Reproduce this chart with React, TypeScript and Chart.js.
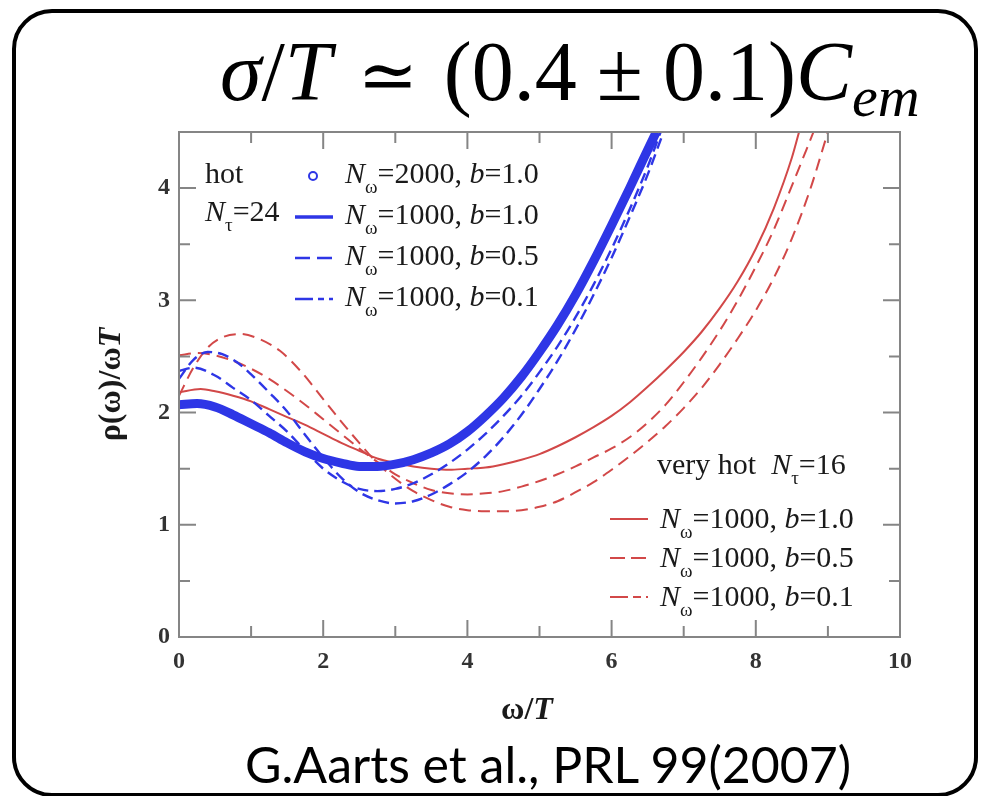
import React, { useEffect, useRef } from "react";
import { Chart, registerables } from "chart.js";

Chart.register(...registerables);

// ---- axes ----
const xMin = 0;
const xMax = 10;
const yMin = 0;
const yMax = 4.5;
const xTickLabels = [0, 2, 4, 6, 8, 10];
const xMinorTicks = [1, 3, 5, 7, 9];
const yTickLabels = [0, 1, 2, 3, 4];
const yMinorTicks = [0.5, 1.5, 2.5, 3.5];

// ---- hot, N_tau = 24 ----
const hot2000b10X = [0, 0.25, 0.5, 0.75, 1, 1.25, 1.5, 1.75, 2, 2.25, 2.5, 2.75, 3, 3.25, 3.5, 3.75, 4, 4.25, 4.5, 4.75, 5, 5.25, 5.5, 5.75, 6, 6.25, 6.5, 6.62];
const hot2000b10Y = [2.07, 2.08, 2.05, 1.98, 1.9, 1.82, 1.73, 1.65, 1.59, 1.55, 1.52, 1.52, 1.54, 1.58, 1.64, 1.72, 1.83, 1.97, 2.13, 2.32, 2.54, 2.78, 3.05, 3.35, 3.67, 4.0, 4.34, 4.5];

const hot1000b10X = [0, 0.25, 0.5, 0.75, 1, 1.25, 1.5, 1.75, 2, 2.25, 2.5, 2.75, 3, 3.25, 3.5, 3.75, 4, 4.25, 4.5, 4.75, 5, 5.25, 5.5, 5.75, 6, 6.25, 6.5, 6.63];
const hot1000b10Y = [2.07, 2.08, 2.05, 1.98, 1.9, 1.82, 1.73, 1.65, 1.59, 1.55, 1.52, 1.52, 1.54, 1.58, 1.64, 1.72, 1.83, 1.97, 2.13, 2.32, 2.54, 2.78, 3.05, 3.35, 3.67, 4.0, 4.34, 4.5];

const hot1000b05X = [0, 0.2, 0.5, 0.75, 1, 1.25, 1.5, 1.75, 2, 2.25, 2.5, 2.75, 3, 3.25, 3.5, 3.75, 4, 4.25, 4.5, 4.75, 5, 5.25, 5.5, 5.75, 6, 6.25, 6.5, 6.68];
const hot1000b05Y = [2.37, 2.4, 2.33, 2.22, 2.11, 1.97, 1.83, 1.66, 1.5, 1.39, 1.32, 1.3, 1.32, 1.37, 1.45, 1.55, 1.67, 1.81, 1.97, 2.15, 2.36, 2.59, 2.85, 3.14, 3.46, 3.81, 4.19, 4.5];

const hot1000b01X = [0, 0.2, 0.4, 0.6, 0.8, 1, 1.25, 1.5, 1.75, 2, 2.25, 2.5, 2.75, 3, 3.25, 3.5, 3.75, 4, 4.25, 4.5, 4.75, 5, 5.25, 5.5, 5.75, 6, 6.25, 6.5, 6.72];
const hot1000b01Y = [2.3, 2.47, 2.54, 2.52, 2.45, 2.34, 2.18, 2.01, 1.8, 1.6, 1.42, 1.29, 1.22, 1.19, 1.21, 1.27, 1.36, 1.47, 1.61, 1.78, 1.98, 2.21, 2.46, 2.74, 3.05, 3.38, 3.74, 4.12, 4.5];

// ---- very hot, N_tau = 16 ----
const vhot1000b10X = [0, 0.3, 0.5, 0.75, 1, 1.25, 1.5, 1.75, 2, 2.25, 2.5, 2.75, 3, 3.25, 3.5, 3.75, 4, 4.25, 4.5, 4.75, 5, 5.25, 5.5, 5.75, 6, 6.25, 6.5, 6.75, 7, 7.25, 7.5, 7.75, 8, 8.25, 8.5, 8.6];
const vhot1000b10Y = [2.18, 2.21, 2.19, 2.15, 2.1, 2.03, 1.96, 1.89, 1.81, 1.73, 1.66, 1.59, 1.55, 1.52, 1.5, 1.49, 1.5, 1.51, 1.54, 1.58, 1.63, 1.7, 1.78, 1.87, 1.97, 2.09, 2.23, 2.38, 2.54, 2.72, 2.93, 3.17, 3.46, 3.82, 4.27, 4.5];

const vhot1000b05X = [0, 0.25, 0.5, 0.75, 1, 1.25, 1.5, 1.75, 2, 2.25, 2.5, 2.75, 3, 3.25, 3.5, 3.75, 4, 4.25, 4.5, 4.75, 5, 5.25, 5.5, 5.75, 6, 6.25, 6.5, 6.75, 7, 7.25, 7.5, 7.75, 8, 8.25, 8.5, 8.8];
const vhot1000b05Y = [2.51, 2.53, 2.51, 2.46, 2.39, 2.3, 2.19, 2.07, 1.94, 1.81, 1.68, 1.56, 1.45, 1.37, 1.31, 1.28, 1.27, 1.28, 1.3, 1.34, 1.39, 1.45, 1.52, 1.6, 1.68, 1.78, 1.91, 2.07, 2.27, 2.49, 2.73, 3.0, 3.3, 3.63, 4.02, 4.5];

const vhot1000b01X = [0, 0.2, 0.4, 0.6, 0.85, 1.1, 1.4, 1.7, 2, 2.25, 2.5, 2.75, 3, 3.25, 3.5, 3.75, 4, 4.25, 4.5, 4.75, 5, 5.25, 5.5, 5.75, 6, 6.25, 6.5, 6.75, 7, 7.25, 7.5, 7.75, 8, 8.25, 8.5, 8.75, 9.0];
const vhot1000b01Y = [2.15, 2.4, 2.58, 2.67, 2.7, 2.66, 2.55, 2.36, 2.12, 1.92, 1.73, 1.55, 1.41, 1.3, 1.22, 1.16, 1.13, 1.12, 1.12, 1.13, 1.16, 1.21, 1.29, 1.38, 1.49, 1.61, 1.74, 1.88, 2.04, 2.22, 2.43, 2.66, 2.91, 3.2, 3.55, 3.98, 4.5];

const BLUE = "#2e36e6";
const RED = "#d24848";
const SERIF = '"Liberation Serif", "Times New Roman", serif';

const pts = (xs: number[], ys: number[]) => xs.map((x, i) => ({ x, y: ys[i] }));

type Run = { t: string; it?: boolean; sub?: boolean; bold?: boolean };

function drawRuns(ctx: CanvasRenderingContext2D, x: number, y: number, runs: Run[], size: number, measureOnly = false) {
  let cx = x;
  for (const r of runs) {
    const s = r.sub ? Math.round(size * 0.62) : size;
    ctx.font = `${r.it ? "italic " : ""}${r.bold ? "bold " : ""}${s}px ${SERIF}`;
    if (!measureOnly) ctx.fillText(r.t, cx, y + (r.sub ? size * 0.32 : 0));
    cx += ctx.measureText(r.t).width;
  }
  return cx - x;
}

const Nw = (rest: string, b: string): Run[] => [
  { t: "N", it: true },
  { t: "ω", sub: true },
  { t: "=" + rest + ", " },
  { t: "b", it: true },
  { t: "=" + b },
];

const overlayPlugin = {
  id: "overlay",
  afterDatasetsDraw(chart: any) {
    const { ctx, chartArea: a, scales } = chart;
    const xs = scales.x;
    const ys = scales.y;
    ctx.save();
    // frame
    ctx.strokeStyle = "#858585";
    ctx.lineWidth = 2;
    ctx.strokeRect(a.left, a.top, a.right - a.left, a.bottom - a.top);
    const major = 17;
    const minor = 11;
    const tickX = (v: number, len: number) => {
      const p = xs.getPixelForValue(v);
      ctx.beginPath();
      ctx.moveTo(p, a.bottom);
      ctx.lineTo(p, a.bottom - len);
      ctx.moveTo(p, a.top);
      ctx.lineTo(p, a.top + len);
      ctx.stroke();
    };
    const tickY = (v: number, len: number) => {
      const p = ys.getPixelForValue(v);
      ctx.beginPath();
      ctx.moveTo(a.left, p);
      ctx.lineTo(a.left + len, p);
      ctx.moveTo(a.right, p);
      ctx.lineTo(a.right - len, p);
      ctx.stroke();
    };
    xTickLabels.forEach((v) => v > xMin && v < xMax && tickX(v, major));
    xMinorTicks.forEach((v) => tickX(v, minor));
    yTickLabels.forEach((v) => v > yMin && v < yMax && tickY(v, major));
    yMinorTicks.forEach((v) => tickY(v, minor));

    // legends
    ctx.fillStyle = "#1a1a1a";
    ctx.textBaseline = "alphabetic";
    ctx.textAlign = "left";
    const fs = 30;
    drawRuns(ctx, 205, 183, [{ t: "hot" }], fs);
    drawRuns(ctx, 205, 221, [{ t: "N", it: true }, { t: "τ", sub: true }, { t: "=24" }], fs);
    const blueRows = [
      { runs: Nw("2000", "1.0"), kind: "circle", dash: [] as number[], w: 2 },
      { runs: Nw("1000", "1.0"), kind: "line", dash: [] as number[], w: 3.5 },
      { runs: Nw("1000", "0.5"), kind: "line", dash: [15, 7], w: 2.5 },
      { runs: Nw("1000", "0.1"), kind: "line", dash: [18, 5, 6, 5], w: 2.5 },
    ];
    blueRows.forEach((r, i) => {
      const base = 183 + i * 41;
      const my = base - 7;
      ctx.fillStyle = "#1a1a1a";
      drawRuns(ctx, 345, base, r.runs, fs);
      ctx.strokeStyle = BLUE;
      ctx.lineWidth = r.w;
      if (r.kind === "circle") {
        ctx.setLineDash([]);
        ctx.beginPath();
        ctx.arc(313, my, 4, 0, Math.PI * 2);
        ctx.stroke();
      } else {
        ctx.setLineDash(r.dash);
        ctx.beginPath();
        ctx.moveTo(295, my);
        ctx.lineTo(333, my);
        ctx.stroke();
      }
    });
    ctx.setLineDash([]);

    ctx.fillStyle = "#1a1a1a";
    drawRuns(ctx, 657, 474, [{ t: "very hot  " }, { t: "N", it: true }, { t: "τ", sub: true }, { t: "=16" }], fs);
    const redRows = [
      { runs: Nw("1000", "1.0"), dash: [] as number[] },
      { runs: Nw("1000", "0.5"), dash: [15, 6] },
      { runs: Nw("1000", "0.1"), dash: [18, 5, 8, 5] },
    ];
    redRows.forEach((r, i) => {
      const base = 528 + i * 39;
      const my = base - 9;
      ctx.fillStyle = "#1a1a1a";
      drawRuns(ctx, 660, base, r.runs, fs);
      ctx.strokeStyle = RED;
      ctx.lineWidth = 2.2;
      ctx.setLineDash(r.dash);
      ctx.beginPath();
      ctx.moveTo(610, my);
      ctx.lineTo(648, my);
      ctx.stroke();
    });
    ctx.setLineDash([]);

    // axis titles
    ctx.fillStyle = "#1a1a1a";
    const yRuns: Run[] = [{ t: "ρ(ω)/ω", bold: true }, { t: "T", bold: true, it: true }];
    const xRuns: Run[] = [{ t: "ω/", bold: true }, { t: "T", bold: true, it: true }];
    const tfs = 32;
    const yw = drawRuns(ctx, 0, 0, yRuns, tfs, true);
    ctx.save();
    ctx.translate(120, (a.top + a.bottom) / 2);
    ctx.rotate(-Math.PI / 2);
    drawRuns(ctx, -yw / 2, 0, yRuns, tfs);
    ctx.restore();
    const xw = drawRuns(ctx, 0, 0, xRuns, tfs, true);
    drawRuns(ctx, 527 - xw / 2, 719, xRuns, tfs);
    ctx.restore();
  },
};

function ChartBox() {
  const ref = useRef<HTMLCanvasElement | null>(null);
  useEffect(() => {
    if (!ref.current) return;
    const common = { showLine: true, pointRadius: 0, cubicInterpolationMode: "monotone", clip: 0, fill: false };
    const chart = new Chart(ref.current, {
      type: "scatter",
      data: {
        datasets: [
          { ...common, label: "N=2000, b=1.0", data: pts(hot2000b10X, hot2000b10Y), borderColor: BLUE, borderWidth: 9, order: 0 },
          { ...common, label: "N=1000, b=1.0 (hot)", data: pts(hot1000b10X, hot1000b10Y), borderColor: BLUE, borderWidth: 3, order: 1 },
          { ...common, label: "N=1000, b=0.5 (hot)", data: pts(hot1000b05X, hot1000b05Y), borderColor: BLUE, borderWidth: 2.4, borderDash: [11, 6], order: 2 },
          { ...common, label: "N=1000, b=0.1 (hot)", data: pts(hot1000b01X, hot1000b01Y), borderColor: BLUE, borderWidth: 2.4, borderDash: [11, 6], order: 3 },
          { ...common, label: "N=1000, b=1.0 (very hot)", data: pts(vhot1000b10X, vhot1000b10Y), borderColor: RED, borderWidth: 2, order: 4 },
          { ...common, label: "N=1000, b=0.5 (very hot)", data: pts(vhot1000b05X, vhot1000b05Y), borderColor: RED, borderWidth: 2, borderDash: [12, 7], order: 5 },
          { ...common, label: "N=1000, b=0.1 (very hot)", data: pts(vhot1000b01X, vhot1000b01Y), borderColor: RED, borderWidth: 2, borderDash: [12, 7], order: 6 },
        ] as any,
      },
      options: {
        animation: false,
        responsive: false,
        events: [],
        layout: { padding: { left: 0, right: 82, top: 132, bottom: 99 } },
        plugins: { legend: { display: false }, tooltip: { enabled: false }, title: { display: false } },
        scales: {
          x: {
            type: "linear",
            min: xMin,
            max: xMax,
            grid: { display: false, drawTicks: false },
            border: { display: false },
            afterBuildTicks: (s: any) => {
              s.ticks = xTickLabels.map((v) => ({ value: v }));
            },
            afterFit: (s: any) => {
              s.height = 60;
            },
            ticks: {
              padding: 10,
              maxRotation: 0,
              autoSkip: false,
              color: "#333",
              font: { family: SERIF, size: 24, weight: "bold" },
            },
          },
          y: {
            type: "linear",
            min: yMin,
            max: yMax,
            grid: { display: false, drawTicks: false },
            border: { display: false },
            afterBuildTicks: (s: any) => {
              s.ticks = yTickLabels.map((v) => ({ value: v }));
            },
            afterFit: (s: any) => {
              s.width = 179;
            },
            ticks: {
              padding: 9,
              autoSkip: false,
              color: "#333",
              font: { family: SERIF, size: 24, weight: "bold" },
            },
          },
        },
      } as any,
      plugins: [overlayPlugin],
    });
    return () => chart.destroy();
  }, []);
  return <canvas ref={ref} width={982} height={796} style={{ position: "absolute", left: 0, top: 0, width: 982, height: 796 }} />;
}

export default function App() {
  return (
    <div style={{ position: "absolute", left: 0, top: 0, width: 982, height: 796, overflow: "hidden", background: "#fff" }}>
      <div
        style={{
          position: "absolute",
          left: 12,
          top: 9,
          width: 966,
          height: 788,
          boxSizing: "border-box",
          border: "4px solid #000",
          borderRadius: 40,
        }}
      />
      <ChartBox />
      <div
        style={{
          position: "absolute",
          left: 220,
          top: 25,
          fontFamily: SERIF,
          fontSize: 84,
          lineHeight: "93px",
          whiteSpace: "nowrap",
          color: "#000",
        }}
      >
        <i>σ</i>/<i>T</i>
        <span style={{ margin: "0 26px", fontFamily: '"DejaVu Serif", serif', fontSize: 72 }}>≃</span>
        (0.4
        <span style={{ margin: "0 20px" }}>±</span>
        0.1)<i>C</i>
        <i style={{ fontSize: 58, position: "relative", top: 16 }}>em</i>
      </div>
      <div
        style={{
          position: "absolute",
          left: 245,
          top: 734,
          fontFamily: "Lato, 'Open Sans', sans-serif",
          fontSize: 50,
          lineHeight: "60px",
          whiteSpace: "nowrap",
          color: "#000",
        }}
      >
        G.Aarts et al., PRL 99(2007)
      </div>
    </div>
  );
}
